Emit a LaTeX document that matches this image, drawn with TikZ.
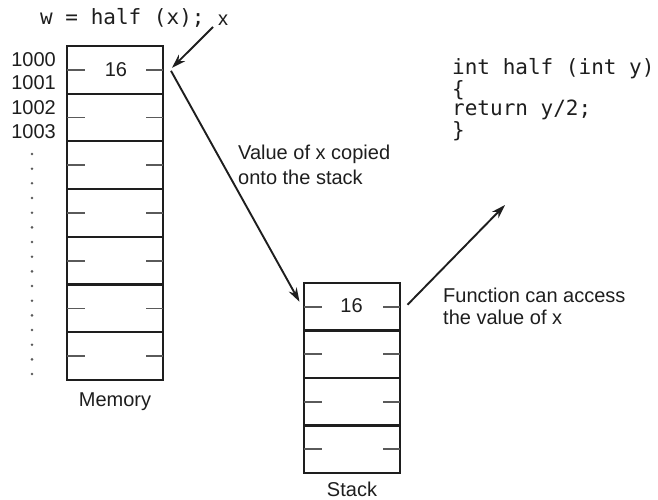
\documentclass[tikz,border=0pt]{standalone}
\usepackage{fontspec}
\setmainfont{Liberation Sans}
\setmonofont{DejaVu Sans Mono}
\usetikzlibrary{arrows.meta}
\definecolor{ink}{HTML}{1E1E1E}
\definecolor{tick}{HTML}{5A5A5A}
\begin{document}
\begin{tikzpicture}[x=1pt,y=-1pt,
  cell/.style={draw=ink, line width=2pt, minimum width=96pt, minimum height=47.6pt, inner sep=0pt, outer sep=0pt},
  txt/.style={text=ink, inner sep=0pt, font=\fontsize{20}{24}\selectfont},
  code/.style={text=ink, inner sep=0pt, font=\ttfamily\fontsize{21}{19.5}\selectfont, align=left},
  arr/.style={draw=ink, line width=1.9pt, -{Stealth[length=14pt,width=9pt]}},
  tk/.style={draw=tick, line width=1.7pt}]
\fill[white] (0,0) rectangle (658,500);
\useasboundingbox (0,0) rectangle (658,500);

% memory cells
\foreach \i in {1,...,7}{
  \node[cell] (m\i) at (115, {46+47.7*(\i-0.5)}) {};
  \draw[tk] (m\i.west) -- ++(18,0);
  \draw[tk] (m\i.east) -- ++(-17,0);
}
% stack cells
\foreach \i in {1,...,4}{
  \node[cell] (s\i) at (351.5, {283+47.5*(\i-0.5)}) {};
  \draw[tk] (s\i.west) -- ++(18,0);
  \draw[tk] (s\i.east) -- ++(-17,0);
}
\node[txt] (v1) at (116,70) {16};
\node[txt] (v2) at (351.5,306) {16};

% addresses
\node[txt, anchor=base east] (a0) at (56,67) {1000};
\node[txt, anchor=base east] (a1) at (56,90) {1001};
\node[txt, anchor=base east] (a2) at (56,115) {1002};
\node[txt, anchor=base east] (a3) at (56,139) {1003};
\foreach \i in {0,...,15}{
  \fill[tick] (32, {154+\i*14.67}) circle (1.4pt);
}

% labels
\node[txt, anchor=base] (memlbl) at (115,406) {Memory};
\node[txt, anchor=base] (stklbl) at (352,496) {Stack};
\node[code, anchor=base west] (call) at (40,25) {w = half (x);};
\node[txt, anchor=base west] (xl) at (218,26) {x};
\node[code, anchor=base west] (fn) at (452,137) {int half (int y)\\\{\\return y/2;\\\}};
\node[txt, anchor=base west, align=left] (copied) at (238,159) {Value of x copied};
\node[txt, anchor=base west, align=left] (onto) at (238,184) {onto the stack};
\node[txt, anchor=base west] (func) at (443,302) {Function can access};
\node[txt, anchor=base west] (thev) at (443,324) {the value of x};

% arrows
\coordinate (a1s) at (213,27);
\coordinate (a1e) at ([shift={(9,-2)}]m1.east);
\draw[arr] (a1s) -- (a1e);
\coordinate (a2s) at ([shift={(8,1)}]m1.east);
\coordinate (a2e) at ([shift={(-4,-5)}]s1.west);
\draw[arr] (a2s) -- (a2e);
\coordinate (a3s) at ([shift={(8,-2)}]s1.east);
\coordinate (a3e) at (505,205);
\draw[arr] (a3s) -- (a3e);
\end{tikzpicture}
\end{document}
